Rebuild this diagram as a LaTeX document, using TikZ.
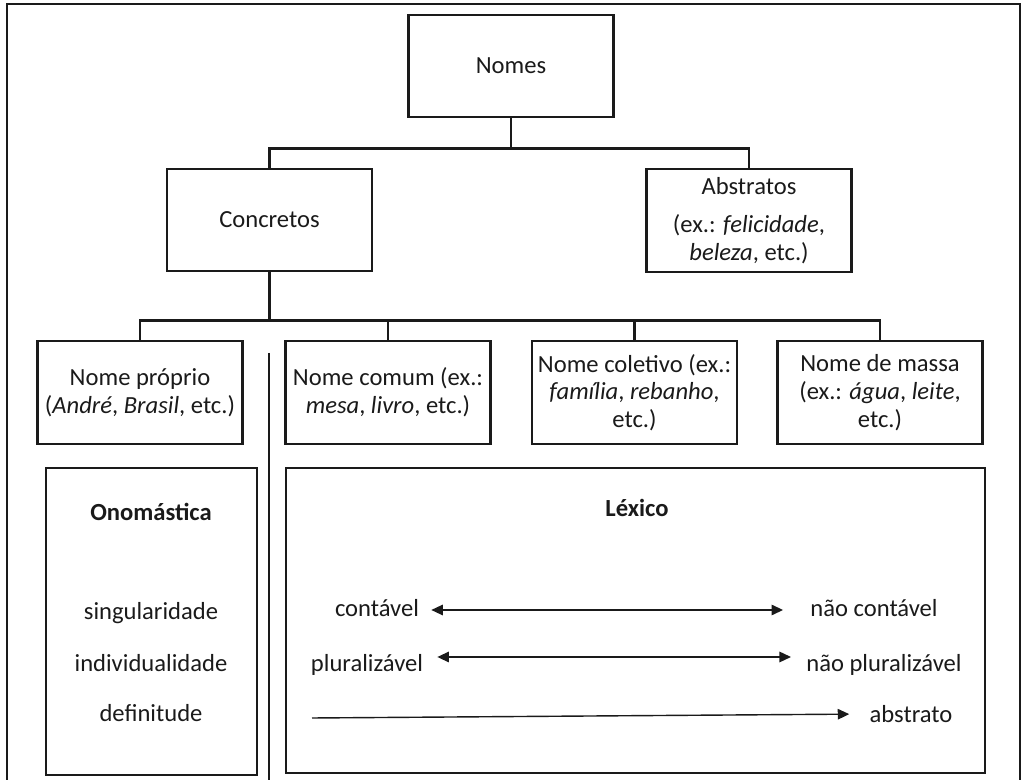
\documentclass[tikz,border=0pt]{standalone}
\usepackage{fontspec}
\setmainfont{Carlito}
\usepackage{xcolor}
\definecolor{Ink}{HTML}{1A1A1A}
\usetikzlibrary{positioning,calc,arrows.meta}
\tikzset{
  box/.style={draw=Ink,line width=1.35pt,align=center,text=Ink,inner sep=2pt,
    font=\fontsize{14}{15.8}\selectfont},
  lbl/.style={text=Ink,inner sep=0pt,font=\fontsize{14}{15.8}\selectfont},
  hd/.style={lbl,font=\fontsize{14}{15.8}\selectfont\bfseries},
  link/.style={draw=Ink,line width=1.35pt},
  dbl/.style={{Triangle[length=2.3mm,width=2.1mm]}-{Triangle[length=2.3mm,width=2.1mm]},
    draw=Ink,line width=0.8pt},
  sgl/.style={-{Triangle[length=2.3mm,width=2.1mm]},draw=Ink,line width=0.8pt},
}

\begin{document}
\begin{tikzpicture}[x=1cm,y=1cm,
  tbox/.style={box,minimum width=4.1cm,minimum height=2.05cm},
  pane/.style={draw=Ink,line width=1.35pt}]
\useasboundingbox (0,0) rectangle (20.54,-15.60);
\draw[pane] (0.14,-0.08) rectangle (20.40,-16.20);

% upper tree
\node[tbox] (nomes) at (10.22,-1.32) {Nomes};
\node[tbox] (conc)  at (5.39,-4.40)  {Concretos};
\node[tbox] (abst)  at (14.98,-4.41)
  {Abstratos\\[6pt](ex.: \textit{felicidade},\\\textit{beleza}, etc.)};
\coordinate (j1) at ($(nomes.south)+(0,-0.60)$);
\draw[link] (nomes.south) -- (j1);
\draw[link] (conc.north) |- (j1) -| (abst.north);

\node[tbox] (npro) at (2.80,-7.85)  {Nome próprio\\(\textit{André}, \textit{Brasil}, etc.)};
\node[tbox] (ncom) at (7.76,-7.85)  {Nome comum (ex.:\\\textit{mesa}, \textit{livro}, etc.)};
\node[tbox] (ncol) at (12.69,-7.85) {Nome coletivo (ex.:\\\textit{família}, \textit{rebanho},\\etc.)};
\node[tbox] (nmas) at (17.60,-7.85) {Nome de massa\\(ex.: \textit{água}, \textit{leite},\\etc.)};
\coordinate (j2) at ($(conc.south)+(0,-0.96)$);
\draw[link] (conc.south) -- (j2);
\draw[link] (npro.north) |- (j2) -| (nmas.north);
\draw[link] (ncom.north) -- (ncom.north |- j2);
\draw[link] (ncol.north) -- (ncol.north |- j2);

% divider
\coordinate (septop) at (5.38,-7.06);
\coordinate (sepbot) at (5.38,-15.80);
\draw[link] (septop) -- (sepbot);

% lower panes
\node[box,minimum width=4.22cm,minimum height=6.14cm] (ono) at (3.03,-12.43) {};
\node[box,minimum width=13.98cm,minimum height=6.10cm] (lex) at (12.71,-12.41) {};
\node[hd]  (onot)  at (3.02,-10.24) {Onomástica};
\node[lbl] (sing)  at (3.02,-12.26) {singularidade};
\node[lbl] (indiv) at (3.02,-13.26) {individualidade};
\node[lbl] (defin) at (3.02,-14.26) {definitude};

\node[hd]  (lext)  at (12.74,-10.16) {Léxico};
\node[lbl] (cont)  at (7.54,-12.16)  {contável};
\node[lbl] (ncont) at (17.48,-12.16) {não contável};
\node[lbl] (plur)  at (7.34,-13.30)  {pluralizável};
\node[lbl] (nplur) at (17.68,-13.30) {não pluralizável};
\node[lbl] (abstr) at (18.22,-14.28) {abstrato};
\draw[dbl,shorten <=0.24cm,shorten >=0.54cm]
  ([yshift=-0.04cm]cont.east) -- ([yshift=-0.04cm]ncont.west);
\draw[dbl,shorten <=0.28cm,shorten >=0.30cm]
  ([yshift=0.16cm]plur.east) -- ([yshift=0.16cm]nplur.west);
\coordinate (astart) at (6.24,-14.36);
\draw[sgl,shorten >=0.40cm] (astart) -- (abstr.west);
\end{tikzpicture}
\end{document}
